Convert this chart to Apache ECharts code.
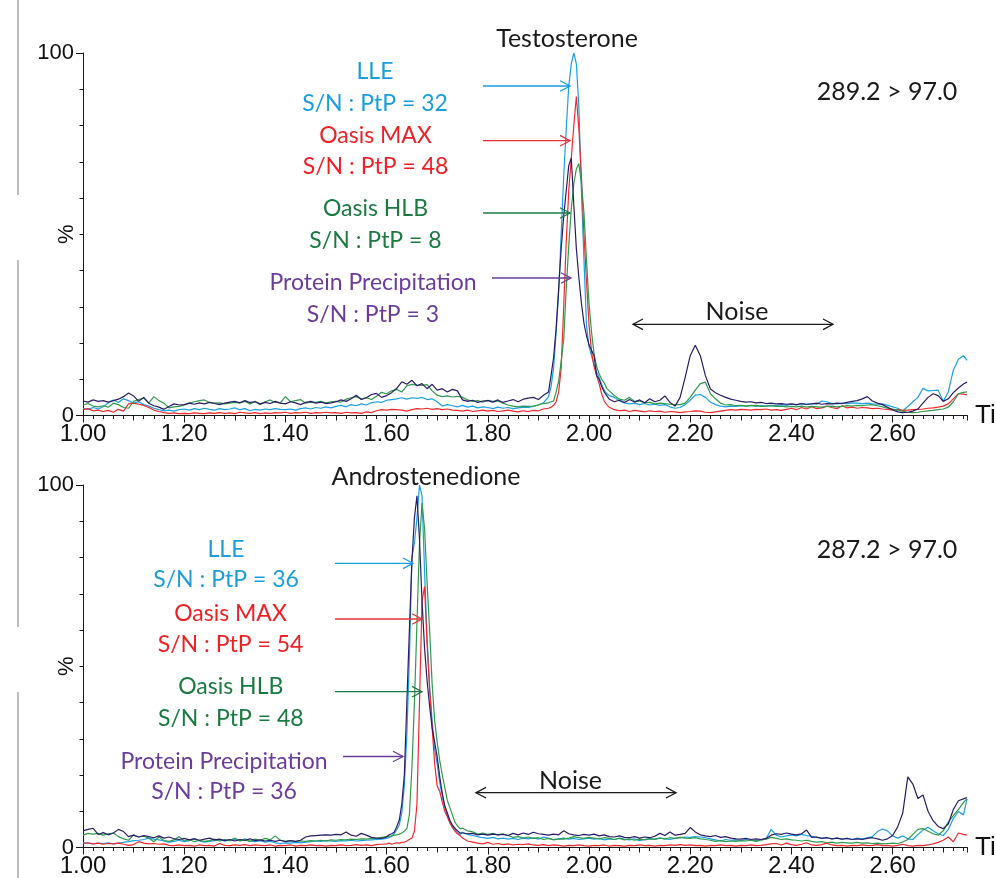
<!DOCTYPE html>
<html><head><meta charset="utf-8">
<script src="https://cdn.jsdelivr.net/npm/echarts@6/dist/echarts.min.js"></script>
<style>html,body{margin:0;padding:0;background:#fff}#c{width:996px;height:878px}</style>
</head><body><div id="c"></div>
<script>
// ---- time grids (min) ----
const topTimeSegments = [[1.00, 1.91, 0.01], [1.92, 2.035, 0.005], [2.04, 2.74, 0.01]];
const topTimeEnd = 2.747;
const botTimeSegments = [[1.00, 1.59, 0.01], [1.60, 1.745, 0.005], [1.75, 2.74, 0.01]];
const botTimeEnd = 2.747;

// ---- Testosterone (289.2 > 97.0), % intensity ----
const topLLE = [
2.0,1.7,2.2,1.8,2.4,3.5,4.3,3.6,4.6,4.1,
3.4,3.8,3.0,2.6,2.0,1.6,1.3,1.5,1.2,1.6,
1.8,1.5,1.9,1.6,2.0,1.7,1.5,1.9,1.6,1.8,
2.1,1.6,1.9,1.3,1.7,1.5,1.8,1.6,1.9,1.7,
1.6,1.8,1.5,1.9,2.1,1.8,2.2,2.0,2.4,2.1,
2.5,2.8,2.4,3.0,2.7,3.2,2.9,3.5,3.8,3.6,
4.2,4.4,4.6,4.9,4.5,4.9,4.7,5.0,4.4,4.6,
3.8,2.6,3.0,2.7,2.4,2.8,2.3,2.6,2.1,2.4,
2.2,1.9,2.3,2.0,2.2,1.9,2.1,2.3,2.2,2.5,
2.9,3.5,
5.2,8,13,23,34,50,66,79,91,97,100,97,85,62,43,25,19,16.5,14,12,10.5,8.5,7,6,
5.5,5.0,4.0,3.5,3.2,3.4,
3.0,3.3,2.9,3.1,2.8,3.0,2.4,2.0,2.2,3.0,
4.2,5.6,5.8,5.0,3.7,3.0,2.6,2.4,2.6,2.5,
2.7,2.6,2.8,2.5,2.7,2.6,2.8,2.7,3.0,2.8,
3.1,2.9,3.2,3.0,3.3,3.1,4.0,3.8,3.3,3.2,
3.4,3.3,3.5,3.4,3.3,3.4,3.2,3.1,3.2,2.8,
2.4,2.0,1.3,2.5,3.8,5.0,7.5,6.8,6.9,7.0,
3.9,6.5,12.5,15.5,16.5,
15.2];
const topMAX = [
1.6,1.9,1.3,1.5,1.1,1.4,0.9,1.7,1.2,3.2,
3.4,3.1,2.8,2.2,1.5,1.1,0.8,0.6,0.7,0.5,
0.6,0.5,0.7,0.6,0.5,0.7,0.6,0.8,0.6,0.7,
0.5,0.9,0.7,0.6,0.8,0.5,0.7,0.6,0.8,0.7,
0.9,0.6,0.8,0.7,0.9,0.6,0.8,0.7,0.9,0.7,
0.8,0.6,0.9,0.7,0.8,0.6,1.0,0.8,1.3,1.6,
1.5,1.7,1.6,1.5,1.2,1.6,1.9,1.8,2.0,1.7,
1.9,1.6,1.8,1.5,1.4,1.2,1.5,1.1,1.3,1.5,
1.2,1.4,1.1,1.3,1.5,1.2,1.0,1.3,1.1,1.4,
1.3,1.8,
2.0,2.3,2.8,3.8,6.5,13,30,48,62,71,80,88,79,66,50,37,25,17.5,13.5,11,8.8,6,4,3.0,
2.3,1.6,1.3,1.5,1.1,1.4,
1.2,1.0,1.3,1.1,1.2,0.9,1.1,1.0,0.8,1.0,
1.1,1.3,1.2,0.9,0.8,1.0,1.2,1.4,1.6,1.5,
1.7,1.6,1.5,1.7,1.6,1.8,1.5,1.6,1.4,1.7,
2.0,1.6,2.2,1.8,2.4,1.9,2.1,2.6,2.2,1.9,
2.7,2.1,2.3,2.0,2.2,2.1,1.9,2.0,1.8,1.7,
1.5,1.6,1.4,1.5,1.6,1.7,1.8,2.0,2.1,2.3,
2.6,3.2,4.6,6.0,5.9,
5.7];
const topHLB = [
2.9,3.3,2.6,2.4,2.7,2.3,3.4,3.0,2.2,2.0,
3.9,4.4,4.8,3.4,5.2,4.1,3.4,2.1,2.4,2.5,
2.9,3.4,3.8,4.1,4.3,3.6,3.4,3.5,3.2,3.4,
3.6,3.5,3.9,3.2,3.9,3.0,3.8,4.3,3.6,3.5,
5.2,3.8,4.1,4.4,3.4,3.7,3.6,3.9,3.5,3.8,
3.9,3.7,4.5,4.9,5.2,4.6,4.9,4.4,5.3,6.4,
6.0,6.8,7.2,6.5,8.2,8.6,8.4,8.3,8.5,6.8,
5.6,5.2,5.4,5.1,5.3,5.0,4.3,3.9,4.1,3.7,
4.2,3.9,4.0,3.4,2.9,2.6,2.4,2.6,2.5,2.6,
2.9,3.3,
3.5,3.8,4.0,6.5,9.5,15,21,35,47,57,64,68,69.5,64,56,43,31,23,17,13.5,11.5,10,9,7.5,
6.8,5.5,4.5,4.2,5.0,3.9,
4.0,3.5,3.6,3.2,3.4,3.3,3.1,3.0,3.0,3.4,
5.0,7.0,8.8,9.2,6.0,4.6,3.4,2.9,3.0,2.7,
2.8,2.6,2.7,2.8,2.5,2.6,2.7,2.5,2.6,2.4,
2.5,2.4,2.6,2.3,2.5,2.4,2.3,2.5,2.6,2.4,
2.5,2.7,2.6,2.8,2.7,2.9,3.0,2.7,2.4,2.0,
1.8,1.5,1.2,0.9,0.8,0.9,1.1,1.3,1.4,1.6,
1.8,2.3,3.8,6.0,6.4,
6.5];
const topPP = [
4.0,3.7,4.3,3.9,4.1,3.7,4.1,4.5,5.2,6.2,
5.4,3.9,5.0,3.4,2.7,2.3,1.7,2.5,3.2,2.9,
3.0,3.4,3.1,3.5,3.2,3.6,3.3,3.0,3.4,3.7,
3.9,3.5,4.1,3.6,3.8,3.2,3.6,3.3,3.9,3.4,
3.2,3.8,3.5,3.0,3.6,3.9,3.4,3.7,3.3,3.5,
3.8,4.3,3.9,4.6,5.6,4.4,4.9,5.8,6.1,5.0,
5.5,6.3,7.5,9.3,8.6,9.7,8.2,8.8,7.4,8.6,
7.0,7.4,6.5,7.2,6.8,4.3,3.9,4.2,3.6,4.0,
4.1,3.7,4.3,3.6,4.0,4.4,3.8,4.5,4.8,5.0,
4.4,5.6,
6.5,11,16,24,35,46,55,62,69,71,58,46,38,31,25.5,22,19.5,18,16.5,11,10,8,6.5,5.5,
4.5,3.8,4.2,3.6,4.4,3.7,
4.3,3.5,4.6,3.8,4.2,5.4,3.6,2.6,5.0,10.5,
16.5,19.4,16.5,11,7.3,6.3,5.6,5.0,4.5,4.2,
3.9,3.7,3.8,3.5,3.6,3.3,3.4,3.2,3.3,3.1,
3.2,3.0,3.3,3.1,3.2,3.4,3.1,3.3,3.2,3.4,
3.3,3.6,3.9,4.1,4.6,5.2,4.0,3.4,3.0,2.3,
1.6,1.0,0.8,0.9,1.2,1.8,3.4,5.0,6.0,5.5,
3.9,4.6,6.3,7.6,8.7,
9.2];

// ---- Androstenedione (287.2 > 97.0), % intensity ----
const botLLE = [
1.3,1.2,1.0,1.2,1.1,1.3,1.0,1.2,1.4,1.6,
1.9,2.0,2.2,2.6,2.3,2.1,1.8,1.5,1.7,2.0,
1.6,1.9,2.5,1.8,1.5,1.7,1.9,2.1,1.8,2.0,
2.2,1.9,2.4,1.8,1.6,1.9,1.5,1.7,1.3,1.1,
1.3,1.2,1.4,1.3,1.5,1.6,1.8,1.7,1.9,1.8,
1.7,1.9,1.8,2.0,1.8,1.9,2.0,2.1,2.2,2.3,
2.5,2.8,3.1,3.8,4.9,6.2,9.5,17,31,52,80,84,91,100,97,76,58,44,35,27,23,18,14,11,8.8,7,5.8,4.8,4.0,3.6,
4.2,3.6,3.3,3.0,2.7,
2.5,2.8,2.4,2.6,2.3,2.5,2.2,2.6,2.4,2.7,
2.3,2.9,2.5,2.2,2.4,2.6,2.3,2.5,2.2,2.4,
2.6,2.3,2.5,2.1,2.4,2.2,2.6,2.3,2.1,2.4,
1.9,2.2,2.5,2.3,2.6,2.4,2.2,2.5,2.7,2.9,
2.8,3.0,2.9,2.7,2.4,2.1,1.8,2.2,2.0,2.1,
1.9,2.2,2.0,1.9,2.1,2.4,5.0,3.4,2.9,3.2,
3.5,3.2,3.6,3.3,3.1,2.8,2.5,2.7,2.4,2.6,
2.3,2.5,2.2,2.6,2.4,2.7,3.0,4.4,5.1,4.6,
3.2,2.6,3.2,2.4,2.2,3.6,4.8,5.6,4.6,3.8,
3.3,5.0,8.0,9.9,9.0,
13.4];
const botMAX = [
1.1,1.3,1.0,1.2,0.9,1.1,1.0,1.2,0.9,0.6,
0.8,1.6,1.2,1.0,1.1,0.9,1.0,0.6,0.5,0.7,
0.5,0.6,0.4,0.7,0.5,0.6,0.4,1.1,0.6,0.5,
0.7,0.6,0.8,0.5,0.7,0.6,0.5,0.7,0.4,0.6,
0.5,0.7,0.4,0.6,0.5,0.7,0.5,0.6,0.4,0.6,
0.5,0.7,0.5,0.6,0.8,0.6,0.7,0.5,0.8,0.9,
1.0,1.2,0.9,1.1,1.3,1.2,1.4,1.5,1.8,2.2,2.6,4.5,12,40,68,72,56,44,33,23,17,15.5,12.5,10,8.5,6.8,5.5,4.5,3.8,3.3,
2.6,1.8,1.5,1.2,1.0,
1.4,0.9,1.1,0.8,1.0,0.7,0.9,0.8,1.0,0.7,
0.6,0.8,0.5,0.7,0.6,0.4,0.6,0.5,0.7,0.5,
0.4,0.6,0.5,0.7,0.4,0.6,0.5,0.4,0.6,0.5,
0.7,0.5,0.6,0.4,0.6,0.5,0.7,0.6,0.8,0.6,
0.7,0.5,0.6,0.4,0.6,0.5,0.7,0.5,0.6,0.4,
0.6,0.5,0.7,0.5,0.6,0.8,1.0,1.1,0.7,1.2,
0.8,0.6,0.9,1.3,0.7,0.6,0.8,1.2,0.7,0.5,
0.6,0.4,0.6,0.5,0.7,0.5,0.6,0.8,0.5,0.6,
0.4,0.6,0.9,0.5,0.4,0.6,0.5,0.7,1.0,1.4,
2.0,2.9,1.6,4.0,3.6,
3.4];
const botHLB = [
3.4,3.9,3.7,3.9,3.4,3.8,4.0,3.0,2.4,2.0,
3.4,2.9,3.1,2.6,1.6,2.9,1.9,1.7,2.1,3.0,
1.8,2.2,1.6,2.0,1.7,1.9,2.3,1.8,2.2,1.9,
2.6,1.8,2.1,1.7,2.3,2.0,2.5,2.1,3.2,2.0,
1.7,1.9,1.6,1.8,1.7,1.9,1.8,2.0,1.8,2.1,
2.0,2.2,2.1,2.3,2.2,2.4,2.3,2.5,2.6,2.8,
3.0,3.1,3.2,3.4,3.5,3.7,4.0,4.5,5.2,9,22,40,62,84,95,88,73,60,45,35,29,24,20,16.5,13,11,9,7,6,5.2,
5.3,4.6,4.3,3.7,4.0,
3.6,3.9,3.5,3.8,3.3,2.8,3.0,2.6,2.9,2.5,
2.7,2.2,2.5,2.1,2.4,2.3,2.6,3.0,2.7,2.5,
2.8,2.6,2.4,2.7,2.5,2.2,2.5,2.1,2.4,2.0,
2.3,2.1,2.4,2.2,2.6,2.4,2.7,2.5,2.8,2.6,
2.5,2.7,2.4,2.2,2.0,1.7,1.9,1.6,1.8,1.7,
1.9,1.8,2.0,1.7,2.1,2.3,2.8,2.5,2.2,2.4,
2.1,2.0,1.8,2.0,1.7,1.5,1.6,1.3,1.5,1.2,
1.4,1.3,1.2,1.4,1.2,1.3,1.1,1.2,1.0,1.1,
1.2,1.1,1.5,2.2,3.6,5.0,5.2,4.5,3.8,3.4,
4.6,7.0,8.8,10.5,12.4,
13.5];
const botPP = [
4.6,5.0,5.3,3.6,4.1,3.5,4.0,5.0,4.4,3.0,
3.4,2.9,3.3,3.0,2.7,3.2,2.6,2.9,2.4,2.2,
2.5,2.1,2.4,2.0,2.3,2.6,2.1,2.3,1.9,2.2,
1.8,2.2,2.0,2.4,1.9,2.1,1.8,2.0,1.7,2.0,
1.6,1.9,1.7,2.0,2.9,3.2,3.3,3.4,3.5,3.4,
3.6,3.5,4.3,3.4,3.1,3.9,3.4,2.8,2.6,2.5,
2.9,3.5,3.8,4.2,5.7,7.5,12,20,40,60,79,91,97,85,68,55,46,39,33,29,25,19.5,15,11.5,9.5,7.5,6.2,5.3,4.6,4.0,
4.0,3.8,3.9,3.5,3.7,
3.4,3.7,3.5,3.6,3.3,3.9,3.5,4.0,3.6,4.2,
3.8,3.6,3.4,3.7,3.5,4.6,3.8,3.5,3.3,3.6,
3.4,3.7,3.2,3.5,3.0,2.9,3.2,2.8,2.7,3.0,
2.6,2.9,2.7,3.1,3.9,3.3,4.3,3.4,3.6,3.9,
5.5,4.3,3.5,3.2,3.0,3.3,2.8,3.0,2.6,2.4,
2.3,2.5,2.2,2.4,2.2,2.5,3.4,3.8,3.6,4.0,
3.7,3.5,3.8,4.8,2.8,2.9,2.5,2.7,2.4,2.6,
2.3,2.5,2.2,2.4,2.2,2.5,2.7,2.4,2.0,2.4,
3.3,5.7,9.5,19.5,17.5,13.5,14.5,10.0,7.4,5.8,
5.2,6.5,10.5,12.9,13.4,
13.8];

const seriesNames = ['LLE', 'Oasis MAX', 'Oasis HLB', 'Protein Precipitation'];
const lineColors = ['#1ba0e2', '#ee2a2e', '#2f9a4c', '#2b1c66'];
const textColors = ['#1b9ddc', '#ec2227', '#1a7a40', '#6a3d9a'];
const snTop = ['S/N : PtP = 32', 'S/N : PtP = 48', 'S/N : PtP = 8', 'S/N : PtP = 3'];
const snBottom = ['S/N : PtP = 36', 'S/N : PtP = 54', 'S/N : PtP = 48', 'S/N : PtP = 36'];
const titles = ['Testosterone', 'Androstenedione'];
const transitions = ['289.2 > 97.0', '287.2 > 97.0'];

function buildTimes(segs, end) {
  const t = [];
  segs.forEach(([a, b, s]) => {
    const n = Math.round((b - a) / s);
    for (let i = 0; i <= n; i++) t.push(+(a + i * s).toFixed(4));
  });
  t.push(end);
  return t;
}
const topTimes = buildTimes(topTimeSegments, topTimeEnd);
const botTimes = buildTimes(botTimeSegments, botTimeEnd);

const warnings = [];
function pair(times, vals, name) {
  if (times.length !== vals.length) warnings.push(name + ' ' + vals.length + '/' + times.length);
  return times.map((t, i) => [t, vals[i]]);
}

const AX = '#1a1a1a';
const LABEL_FONT = 'Liberation Sans';
const ANN_FONT = 'Lato';

function xAxesFor(gridIndex) {
  const base = { gridIndex, type: 'value', min: 1, max: 2.747, position: 'bottom', splitLine: { show: false } };
  return [
    Object.assign({}, base, {
      interval: 0.2,
      axisLine: { show: true, lineStyle: { color: AX, width: 1 } },
      axisTick: { show: true, length: 7, inside: false, lineStyle: { color: AX } },
      axisLabel: { show: true, margin: 7, fontSize: 24, fontFamily: LABEL_FONT, color: '#111',
        showMaxLabel: false, showMinLabel: true, formatter: v => v.toFixed(2) },
      name: 'Time', nameLocation: 'end', nameGap: 8, nameMoveOverlap: false,
      nameTextStyle: { fontSize: 26, fontFamily: LABEL_FONT, color: '#111', verticalAlign: 'middle' }
    }),
    Object.assign({}, base, {
      interval: 0.1, axisLine: { show: false },
      axisTick: { show: true, length: 5, lineStyle: { color: AX } }, axisLabel: { show: false }
    }),
    Object.assign({}, base, {
      interval: 0.02, axisLine: { show: false },
      axisTick: { show: true, length: 3.5, lineStyle: { color: AX } }, axisLabel: { show: false }
    })
  ];
}
function yAxesFor(gridIndex) {
  return [
    { gridIndex, type: 'value', min: 0, max: 100, interval: 100, position: 'left',
      axisLine: { show: true, lineStyle: { color: AX, width: 1 } },
      axisTick: { show: true, length: 7, lineStyle: { color: AX } },
      axisLabel: { margin: 9, fontSize: 22, fontFamily: LABEL_FONT, color: '#111' },
      splitLine: { show: false },
      name: '%', nameLocation: 'middle', nameRotate: 90, nameGap: 5, nameMoveOverlap: false,
      nameTextStyle: { fontSize: 22, fontFamily: LABEL_FONT, color: '#111' } },
    { gridIndex, type: 'value', min: 0, max: 100, interval: 10, position: 'left',
      axisLine: { show: false }, axisTick: { show: true, length: 3.5, lineStyle: { color: AX } },
      axisLabel: { show: false }, splitLine: { show: false } }
  ];
}

const topSets = [topLLE, topMAX, topHLB, topPP];
const botSets = [botLLE, botMAX, botHLB, botPP];
const drawOrder = [0, 1, 2, 3];
const series = [];
drawOrder.forEach(k => {
  series.push({ name: seriesNames[k] + ' (T)', type: 'line', xAxisIndex: 0, yAxisIndex: 0,
    data: pair(topTimes, topSets[k], 'top' + k), showSymbol: false, symbol: 'none',
    lineStyle: { color: lineColors[k], width: 1.2 }, z: 2 + k });
});
drawOrder.forEach(k => {
  series.push({ name: seriesNames[k] + ' (A)', type: 'line', xAxisIndex: 3, yAxisIndex: 2,
    data: pair(botTimes, botSets[k], 'bot' + k), showSymbol: false, symbol: 'none',
    lineStyle: { color: lineColors[k], width: 1.2 }, z: 2 + k });
});

// ---- annotations ----
function txt(x, y, text, color, size, font, align) {
  return { type: 'text', x, y, z: 50, style: { text, fill: color, font: size + 'px "' + font + '"',
    fontSize: size, fontFamily: font, textAlign: align || 'center', align: align || 'center',
    textVerticalAlign: 'middle', verticalAlign: 'middle' } };
}
function arrowRight(x1, x2, y, color) {
  return [
    { type: 'line', z: 50, shape: { x1, y1: y, x2, y2: y }, style: { stroke: color, lineWidth: 1.3 } },
    { type: 'polyline', z: 50, shape: { points: [[x2 - 10, y - 5.3], [x2, y], [x2 - 10, y + 5.3]] },
      style: { stroke: color, lineWidth: 1.3, fill: null } }
  ];
}
function doubleArrow(x1, x2, y, color) {
  return [
    { type: 'line', z: 50, shape: { x1, y1: y, x2, y2: y }, style: { stroke: color, lineWidth: 1.3 } },
    { type: 'polyline', z: 50, shape: { points: [[x2 - 10, y - 5.3], [x2, y], [x2 - 10, y + 5.3]] },
      style: { stroke: color, lineWidth: 1.3, fill: null } },
    { type: 'polyline', z: 50, shape: { points: [[x1 + 10, y - 5.3], [x1, y], [x1 + 10, y + 5.3]] },
      style: { stroke: color, lineWidth: 1.3, fill: null } }
  ];
}
const arrowColors = ['#1b9ddc', '#e8323a', '#1a7a45', '#6a3d9a'];
const graphic = [];
// left grey border artefact
[[0, 195], [260, 627], [692, 878]].forEach(([a, b]) => graphic.push(
  { type: 'line', z: 1, shape: { x1: 18, y1: a, x2: 18, y2: b }, style: { stroke: '#a8a8a8', lineWidth: 1.5 } }));

// top panel
graphic.push(txt(567, 39, titles[0], '#1a1a1a', 25, ANN_FONT));
graphic.push(txt(887, 92, transitions[0], '#1a1a1a', 25, ANN_FONT));
const topNameY = [72, 135.5, 209, 283];
const topSnY = [103.5, 167, 241, 315];
const topCx = [375, 375.5, 375.5, 373];
for (let k = 0; k < 4; k++) {
  graphic.push(txt(topCx[k], topNameY[k], seriesNames[k], textColors[k], 23, ANN_FONT));
  graphic.push(txt(topCx[k], topSnY[k], snTop[k], textColors[k], 23, ANN_FONT));
}
const topArrowY = [86, 140.7, 213, 278];
const topArrowX1 = [483, 483, 483, 492];
const topArrowX2 = [570, 570, 570, 571];
for (let k = 0; k < 4; k++) graphic.push(...arrowRight(topArrowX1[k], topArrowX2[k], topArrowY[k], arrowColors[k]));
graphic.push(txt(737, 312, 'Noise', '#1a1a1a', 25, ANN_FONT));
graphic.push(...doubleArrow(633, 833, 324.3, '#1a1a1a'));

// bottom panel
graphic.push(txt(426, 477, titles[1], '#1a1a1a', 25, ANN_FONT));
graphic.push(txt(887, 550, transitions[1], '#1a1a1a', 25, ANN_FONT));
const botNameY = [549.5, 613.5, 686.5, 761.5];
const botSnY = [580, 645, 718.5, 791.5];
const botCx = [226, 230.5, 230.8, 224];
for (let k = 0; k < 4; k++) {
  graphic.push(txt(botCx[k], botNameY[k], seriesNames[k], textColors[k], 23, ANN_FONT));
  graphic.push(txt(botCx[k], botSnY[k], snBottom[k], textColors[k], 23, ANN_FONT));
}
const botArrowY = [563.3, 619, 691.7, 756.5];
const botArrowX1 = [335, 335, 335, 343];
const botArrowX2 = [413, 422, 422, 403];
for (let k = 0; k < 4; k++) graphic.push(...arrowRight(botArrowX1[k], botArrowX2[k], botArrowY[k], arrowColors[k]));
graphic.push(txt(570.5, 781, 'Noise', '#1a1a1a', 25, ANN_FONT));
graphic.push(...doubleArrow(476, 676, 792.7, '#1a1a1a'));

if (warnings.length) graphic.push(txt(500, 450, 'LEN: ' + warnings.join(', '), '#f00', 16, 'DejaVu Sans'));

const chart = echarts.init(document.getElementById('c'), null, { renderer: 'canvas' });
chart.setOption({
  animation: false,
  backgroundColor: '#ffffff',
  grid: [
    { left: 83, top: 53, width: 884, height: 362.5, containLabel: false, outerBoundsMode: 'none' },
    { left: 83, top: 485, width: 884, height: 362.5, containLabel: false, outerBoundsMode: 'none' }
  ],
  xAxis: [...xAxesFor(0), ...xAxesFor(1)],
  yAxis: [...yAxesFor(0), ...yAxesFor(1)],
  series,
  graphic
});
</script></body></html>
